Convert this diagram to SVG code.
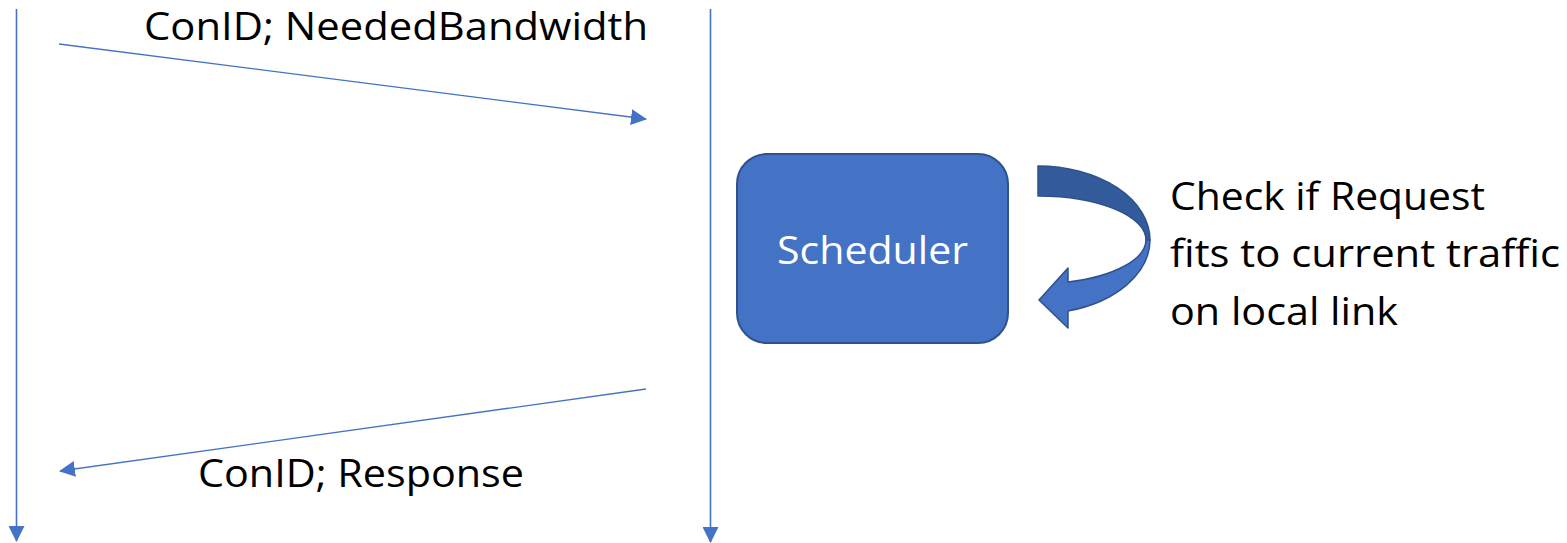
<svg xmlns="http://www.w3.org/2000/svg" width="1567" height="543" viewBox="0 0 1567 543">
  <style>
    .lifeline { stroke: #4472C4; stroke-width: 1.6; fill: none; }
    .msg { stroke: #4472C4; stroke-width: 1.3; fill: none; }
    .label { font-family: "Open Sans", "Liberation Sans", sans-serif; font-size: 39px; fill: #000000; }
    .box { fill: #4472C4; stroke: #2F528F; stroke-width: 2; }
    .boxtext { font-family: "Open Sans", "Liberation Sans", sans-serif; font-size: 39px; fill: #FFFFFF; }
    .loop-back { fill: #335A9B; stroke: #2F528F; stroke-width: 1.5; stroke-linejoin: round; }
    .loop-front { fill: #4472C4; stroke: #2F528F; stroke-width: 1.5; stroke-linejoin: round; }
  </style>
  <defs>
    <marker id="head" markerWidth="10" markerHeight="10" refX="9" refY="5" orient="auto" markerUnits="userSpaceOnUse" viewBox="0 0 10 10">
      <path d="M0,0 L10,5 L0,10 Z" fill="#4472C4"/>
    </marker>
    <marker id="headLarge" viewBox="0 0 16 16" refX="15" refY="8" markerWidth="16" markerHeight="16" orient="auto" markerUnits="userSpaceOnUse">
      <path d="M0,0 L16,8 L0,16 Z" fill="#4472C4"/>
    </marker>
  </defs>

  <!-- lifelines and messages -->
  <g id="connectors">
    <line class="lifeline" x1="16.5" y1="9" x2="16.5" y2="541" marker-end="url(#headLarge)"/>
    <line class="lifeline" x1="710.5" y1="9" x2="710.5" y2="542" marker-end="url(#headLarge)"/>
    <line class="msg" x1="59" y1="44" x2="646" y2="119" marker-end="url(#headLarge)"/>
    <line class="msg" x1="646" y1="389" x2="60" y2="471" marker-end="url(#headLarge)"/>
  </g>

  <g id="label-request">
    <text class="label" x="144" y="40" textLength="504" lengthAdjust="spacingAndGlyphs">ConID; NeededBandwidth</text>
  </g>

  <g id="label-response">
    <text class="label" x="198" y="487" textLength="326" lengthAdjust="spacingAndGlyphs">ConID; Response</text>
  </g>

  <g id="scheduler">
    <rect class="box" x="737" y="154" width="271" height="189" rx="30" ry="30"/>
    <text class="boxtext" x="777" y="264" textLength="191" lengthAdjust="spacingAndGlyphs">Scheduler</text>
  </g>

  <!-- self-loop curved arrow beside the scheduler -->
  <g id="check-loop">
    <path class="loop-back" d="M1038,166 A112,74 0 0 1 1150,240 L1146,240 A108,44 0 0 0 1038,196 Z"/>
    <path class="loop-front" d="M1146,240 A108,44 0 0 1 1068,282 L1068,268 L1039,300 L1068,328 L1068,311 A112,74 0 0 0 1150,240 Z"/>
  </g>

  <g id="check-note">
    <text class="label" x="1170" y="210" textLength="315" lengthAdjust="spacingAndGlyphs">Check if Request</text>
    <text class="label" x="1170" y="267" textLength="390" lengthAdjust="spacingAndGlyphs">fits to current traffic</text>
    <text class="label" x="1170" y="325" textLength="228" lengthAdjust="spacingAndGlyphs">on local link</text>
  </g>
</svg>
